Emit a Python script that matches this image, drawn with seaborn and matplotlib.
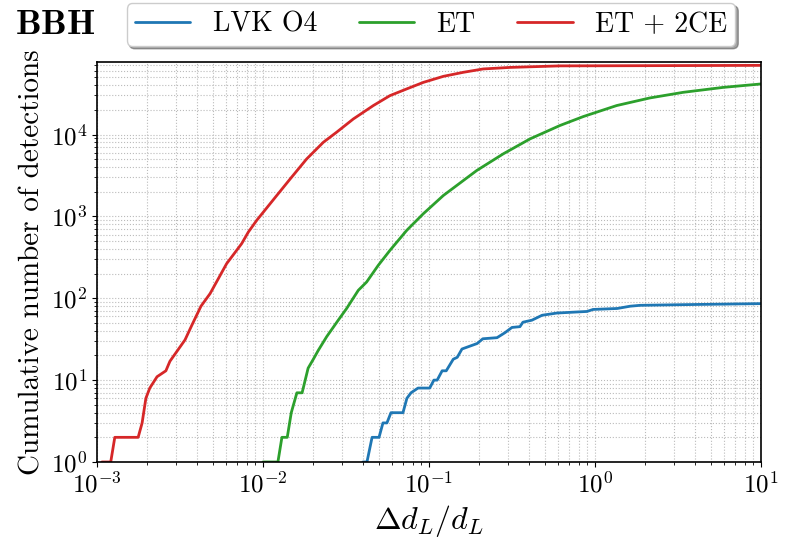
import numpy as np
import pandas as pd
import matplotlib
matplotlib.use("Agg")
import matplotlib.pyplot as plt
import seaborn as sns

# ── data (x = Δd_L/d_L, y = cumulative detections) ──
lvk_x = [4.00e-2, 4.23e-2, 4.54e-2, 5.00e-2, 5.28e-2, 5.58e-2, 5.90e-2, 6.97e-2,
         7.36e-2, 7.79e-2, 8.59e-2, 0.101, 0.107, 0.112, 0.120, 0.127, 0.140,
         0.148, 0.158, 0.195, 0.211, 0.257, 0.287, 0.316, 0.353, 0.368, 0.417,
         0.480, 0.590, 0.895, 0.973, 1.36, 1.63, 1.87, 4.11, 10.0]
lvk_y = [1, 1, 2, 2, 3, 3, 4, 4, 6, 7, 8, 8, 10, 10, 13, 13, 18, 19, 24, 28,
         32, 33, 38, 44, 45, 51, 54, 62, 66, 69, 73, 75, 80, 82, 84, 86]

et_x = [1.00e-2, 1.23e-2, 1.30e-2, 1.40e-2, 1.48e-2, 1.60e-2, 1.72e-2, 1.87e-2,
        2.01e-2, 2.15e-2, 2.42e-2, 2.84e-2, 3.19e-2, 3.75e-2, 4.21e-2, 4.95e-2,
        5.82e-2, 7.34e-2, 9.25e-2, 0.122, 0.194, 0.280, 0.406, 0.615, 0.851,
        1.35, 2.14, 3.40, 5.93, 10.0]
et_y = [1, 1, 2, 2, 4, 7, 7, 14, 18, 23, 34, 54, 75, 125, 158, 253, 385, 675,
        1080, 1800, 3640, 5810, 8850, 12900, 16600, 22600, 28000, 32800, 37700,
        41500]

et2ce_x = [1.07e-3, 1.21e-3, 1.28e-3, 1.77e-3, 1.87e-3, 1.97e-3, 2.08e-3,
           2.30e-3, 2.60e-3, 2.75e-3, 3.39e-3, 3.73e-3, 4.23e-3, 4.80e-3,
           6.04e-3, 7.44e-3, 8.16e-3, 9.16e-3, 1.21e-2, 1.46e-2,
           1.83e-2, 2.31e-2, 2.78e-2, 3.50e-2, 4.62e-2, 5.82e-2, 7.34e-2,
           9.25e-2, 0.122, 0.161, 0.212, 0.308, 0.615, 10.0]
et2ce_y = [1, 1, 2, 2, 3, 6, 8, 11, 13, 17, 31, 47, 80, 114, 265, 465, 644,
           894, 1800, 2880, 5020, 8050, 10700, 15500, 22600, 29900,
           36100, 43400, 51400, 57600, 63300, 66100, 69000, 70000]

labels = ["LVK O4", "ET", "ET + 2CE"]
colors = ["tab:blue", "tab:green", "tab:red"]

df = pd.concat([
    pd.DataFrame({"x": lvk_x, "y": lvk_y, "det": labels[0]}),
    pd.DataFrame({"x": et_x, "y": et_y, "det": labels[1]}),
    pd.DataFrame({"x": et2ce_x, "y": et2ce_y, "det": labels[2]}),
], ignore_index=True)

sns.set_style("ticks")
plt.rcParams["font.family"] = "serif"
plt.rcParams["font.serif"] = ["cmr10"]
plt.rcParams["mathtext.fontset"] = "cm"
plt.rcParams["axes.formatter.use_mathtext"] = True
plt.rcParams["axes.edgecolor"] = "black"
plt.rcParams["axes.linewidth"] = 1.2
plt.rcParams["text.color"] = "black"
plt.rcParams["axes.labelcolor"] = "black"

fig = plt.figure(figsize=(7.86, 5.39), dpi=100)
ax = fig.add_axes([0.1234, 0.1429, 0.8448, 0.7421])

sns.lineplot(data=df, x="x", y="y", hue="det", hue_order=labels,
             palette=colors, estimator=None, sort=False, lw=2, ax=ax)

ax.set_xscale("log"); ax.set_yscale("log")
ax.set_xlim(1e-3, 10)
ax.set_ylim(1, 7.7e4)
ax.grid(True, which="both", ls=":", color="#bbbbbb", lw=0.8)
ax.tick_params(which="both", direction="out", labelsize=18, colors="black")
ax.set_xlabel(r"$\Delta d_L/d_L$", fontsize=23)
ax.set_ylabel("Cumulative number of detections", fontsize=21)

ax.legend(loc="lower center", bbox_to_anchor=(0.503, 1.04), ncol=3,
          fontsize=20, shadow=True, fancybox=True, framealpha=1,
          edgecolor="#cccccc", handlelength=2.0, columnspacing=1.5,
          borderpad=0.3, borderaxespad=0)
fig.text(0.019, 0.954, r"$\mathbf{BBH}$", fontsize=26, va="center", ha="left")

plt.savefig("out.png", dpi=100)
plt.close()
